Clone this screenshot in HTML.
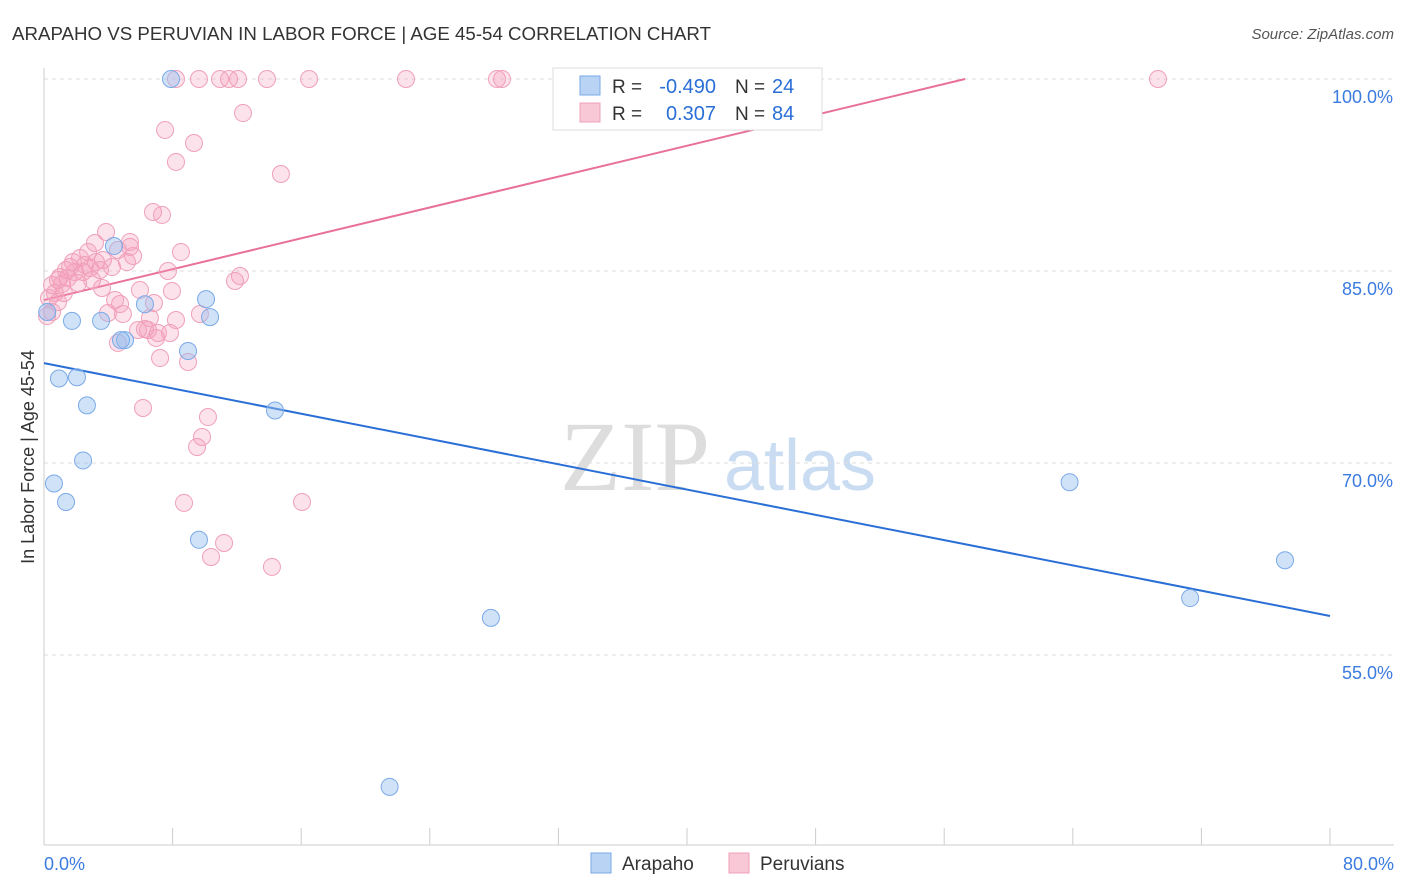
<!DOCTYPE html>
<html><head><meta charset="utf-8"><style>
body{margin:0;background:#fff;font-family:"Liberation Sans",sans-serif;}
svg{display:block}
</style></head><body>
<svg id="chart" width="1406" height="892">
<text x="12" y="40" font-size="18" fill="#333" textLength="699" lengthAdjust="spacingAndGlyphs">ARAPAHO VS PERUVIAN IN LABOR FORCE | AGE 45-54 CORRELATION CHART</text>
<text x="1394" y="39" font-size="15" fill="#555" font-style="italic" text-anchor="end">Source: ZipAtlas.com</text>
<text x="34" y="457" font-size="18" fill="#333" transform="rotate(-90 34 457)" text-anchor="middle">In Labor Force | Age 45-54</text>
<g><text x="635" y="490" font-size="100" fill="#ddd" font-family="Liberation Serif" text-anchor="middle">ZIP</text><text x="800" y="490" font-size="72" fill="#c9dcf2" text-anchor="middle">atlas</text></g>
<g id="grid"></g><g id="axes"></g><g id="lines"></g><g id="pts"></g>
<g>
<rect x="553" y="68" width="269" height="62" fill="#fff" stroke="#ddd"/>
<rect x="580" y="76" width="20" height="19" fill="#b9d3f5" stroke="#7aaae8"/>
<rect x="580" y="103" width="20" height="19" fill="#f9c8d7" stroke="#f0a0b8"/>
<text x="612" y="93" font-size="19" fill="#333">R =</text>
<text x="716" y="93" font-size="20" fill="#2a6fd6" text-anchor="end">-0.490</text>
<text x="735" y="93" font-size="19" fill="#333">N =</text>
<text x="772" y="93" font-size="20" fill="#2a6fd6">24</text>
<text x="612" y="120" font-size="19" fill="#333">R =</text>
<text x="716" y="120" font-size="20" fill="#2a6fd6" text-anchor="end">0.307</text>
<text x="735" y="120" font-size="19" fill="#333">N =</text>
<text x="772" y="120" font-size="20" fill="#2a6fd6">84</text>
</g>
<g>
<rect x="591" y="853" width="20" height="20" fill="#b9d3f5" stroke="#7aaae8"/>
<text x="622" y="870" font-size="19" fill="#333">Arapaho</text>
<rect x="729" y="853" width="20" height="20" fill="#f9c8d7" stroke="#f0a0b8"/>
<text x="760" y="870" font-size="19" fill="#333">Peruvians</text>
</g>
</svg>
<script>
const yTicks=[100,85,70,55];
const xLabels=["0.0%","80.0%"];
const blueX=[7.9,4.35,6.28,10.08,10.33,3.55,1.74,5.04,4.79,8.96,0.93,2.05,2.67,14.37,2.43,0.62,1.37,9.64,27.8,63.8,77.2,71.3,21.5,0.2];
const blueY=[100,86.95,82.4,82.8,81.4,81.1,81.1,79.6,79.6,78.75,76.6,76.7,74.5,74.1,70.2,68.4,66.95,64.0,57.9,68.5,62.4,59.45,44.7,81.8];
const pinkPx=[[176,79],[199,79],[220,79],[229,79],[238,79],[267,79],[309,79],[406,79],[497,79],[502,79],[1158,79],[165,130],[243,113],[194,143],[176,162],[281,174],[153,212],[162,215],[106,232],[130,242],[95,243],[181,252],[133,256],[118,250],[88,252],[80,258],[103,260],[127,262],[70,267],[85,265],[66,270],[75,272],[168,271],[60,277],[240,276],[235,281],[92,280],[52,285],[55,293],[64,293],[102,288],[140,290],[172,291],[49,298],[58,302],[115,300],[120,304],[154,303],[123,314],[108,313],[150,318],[176,320],[200,314],[138,330],[148,330],[158,333],[170,333],[156,338],[118,343],[160,358],[188,362],[143,408],[208,417],[202,437],[197,447],[184,503],[302,502],[224,543],[211,557],[272,567],[52,312],[47,316],[58,280],[73,262],[112,267],[96,262],[83,272],[130,247],[78,283],[90,268],[62,284],[145,329],[100,270],[68,278]];
// convert read pixel positions to data values
const pinkX=pinkPx.map(p=>+((p[0]-44)/16.075).toFixed(2));
const pinkY=pinkPx.map(p=>+(100-(p[1]-79)/12.8).toFixed(2));
const blueLine=[77.8,58.05]; // y at x=0 and x=80
const pinkLine=[82.73,0.3014]; // intercept, slope
const X=v=>44+v*16.075, Y=v=>79+(100-v)*12.8;
const NS="http://www.w3.org/2000/svg";
function mk(tag,at,parent){const e=document.createElementNS(NS,tag);for(const k in at)e.setAttribute(k,at[k]);document.getElementById(parent).appendChild(e);return e;}
yTicks.forEach(t=>{
 const l=mk('line',{x1:44,x2:1394,y1:Y(t),y2:Y(t),stroke:'#ddd','stroke-dasharray':'4,4'},'grid');
 
 
 const tx=mk('text',{x:1393,y:Y(t)+24,'font-size':18,fill:'#3b7be0','text-anchor':'end'},'grid');
 tx.textContent=t.toFixed(1)+'%';
 
 
});
let a=mk('line',{x1:44,x2:44,y1:68,y2:845,stroke:'#ccc'},'axes');


a=mk('line',{x1:44,x2:1394,y1:845,y2:845,stroke:'#ccc'},'axes');


for(let i=0;i<=10;i++){const t=mk('line',{x1:X(i*8),x2:X(i*8),y1:828,y2:845,stroke:'#ccc'},'axes');
 
 }
let xl=mk('text',{x:44,y:870,'font-size':18,fill:'#3b7be0'},'axes');xl.textContent=xLabels[0];


xl=mk('text',{x:1394,y:870,'font-size':18,fill:'#3b7be0','text-anchor':'end'},'axes');xl.textContent=xLabels[1];


let ln=mk('line',{x1:X(0),y1:Y(blueLine[0]),x2:X(80),y2:Y(blueLine[1]),stroke:'#2a6fd6','stroke-width':2},'lines');


const xe=(100-pinkLine[0])/pinkLine[1];
ln=mk('line',{x1:X(0),y1:Y(pinkLine[0]),x2:X(xe),y2:Y(100),stroke:'#e8709a','stroke-width':2},'lines');


pinkX.forEach((x,i)=>{const c=mk('circle',{cx:X(x),cy:Y(pinkY[i]),r:8.5,fill:'rgba(244,160,190,0.3)',stroke:'#f0a0b8'},'pts');
 
 });
blueX.forEach((x,i)=>{const c=mk('circle',{cx:X(x),cy:Y(blueY[i]),r:8.5,fill:'rgba(150,190,240,0.45)',stroke:'#7aaae8'},'pts');
 
 });
</script>
</body></html>
